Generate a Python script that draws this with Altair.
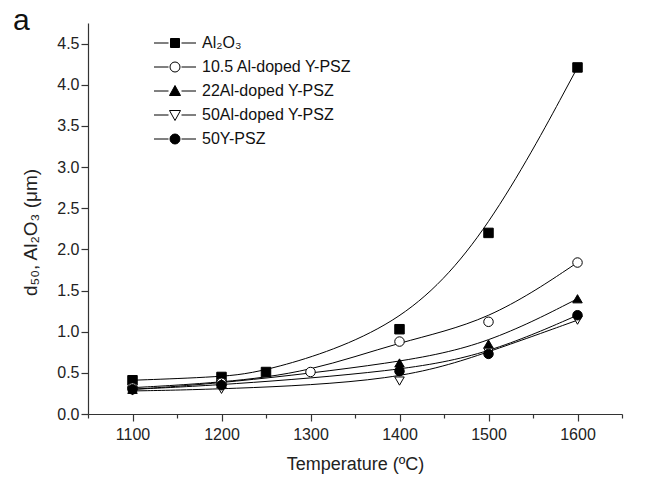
import altair as alt
import pandas as pd

series_names = ["Al₂O₃", "10.5 Al-doped Y-PSZ", "22Al-doped Y-PSZ", "50Al-doped Y-PSZ", "50Y-PSZ"]

al2o3_T = [1100, 1200, 1250, 1400, 1500, 1600]
al2o3_d = [0.41, 0.45, 0.51, 1.03, 2.20, 4.21]

al105_T = [1100, 1200, 1300, 1400, 1500, 1600]
al105_d = [0.32, 0.38, 0.51, 0.88, 1.12, 1.84]

al22_T = [1100, 1200, 1400, 1500, 1600]
al22_d = [0.30, 0.37, 0.62, 0.85, 1.40]

al50_T = [1100, 1200, 1400, 1500, 1600]
al50_d = [0.28, 0.30, 0.40, 0.75, 1.14]

y50_T = [1100, 1200, 1400, 1500, 1600]
y50_d = [0.30, 0.35, 0.52, 0.73, 1.20]

rows = []
for name, T, d in zip(series_names,
                      [al2o3_T, al105_T, al22_T, al50_T, y50_T],
                      [al2o3_d, al105_d, al22_d, al50_d, y50_d]):
    for t, v in zip(T, d):
        rows.append({"series": name, "T": t, "d": v})
df = pd.DataFrame(rows)

fills = ["black", "white", "black", "white", "black"]
strokes = ["black"] * 5
plain_shapes = ["square", "circle", "triangle-up", "triangle-down", "circle"]

L = "M-4.2,0 L-1.3,0 M1.3,0 L4.2,0 "
legend_shapes = [
    L + "M-0.9,-0.9 L0.9,-0.9 L0.9,0.9 L-0.9,0.9 Z",
    L + "M1,0 A1,1 0 1,1 -1,0 A1,1 0 1,1 1,0 Z",
    L + "M-1.1,0.9 L1.1,0.9 L0,-1.1 Z",
    L + "M-1.1,-0.9 L1.1,-0.9 L0,1.1 Z",
    L + "M1,0 A1,1 0 1,1 -1,0 A1,1 0 1,1 1,0 Z",
]

xs = alt.Scale(domain=[1050, 1650], nice=False, zero=False)
ys = alt.Scale(domain=[0, 4.75], nice=False)

x_ticks = list(range(1050, 1651, 50))
y_ticks = [i * 0.25 for i in range(0, 20)]

xaxis = alt.Axis(
    title="Temperature (ºC)", values=x_ticks, grid=False,
    labelExpr="datum.value % 100 === 0 && datum.value >= 1100 && datum.value <= 1600 ? datum.value : ''",
    tickSize={"condition": {"test": "datum.value % 100 !== 0", "value": 4}, "value": 7},
    labelFontSize=16, titleFontSize=18, labelPadding=5, titlePadding=13,
)
yaxis = alt.Axis(
    title="d₅₀, Al₂O₃ (μm)", values=y_ticks, grid=False,
    labelExpr="(round(datum.value*100) % 50 === 0) ? format(datum.value, '.1f') : ''",
    tickSize={"condition": {"test": "round(datum.value*100) % 50 !== 0", "value": 4}, "value": 7},
    labelFontSize=16, titleFontSize=19, labelPadding=2,
    titleX=-48, titleY=209,
)

base = alt.Chart(df)

lines = base.mark_line(interpolate="basis", color="black", strokeWidth=1).encode(
    x=alt.X("T:Q", scale=xs, axis=xaxis),
    y=alt.Y("d:Q", scale=ys, axis=yaxis),
    detail="series:N",
)

points = base.mark_point(filled=True, stroke="black", strokeWidth=1, size=90, opacity=1).encode(
    x=alt.X("T:Q", scale=xs),
    y=alt.Y("d:Q", scale=ys),
    shape=alt.Shape("series:N", scale=alt.Scale(domain=series_names, range=plain_shapes), legend=None),
    fill=alt.Fill("series:N", scale=alt.Scale(domain=series_names, range=fills), legend=None),
)

legend = alt.Legend(
    title=None, orient="none", legendX=79, legendY=12, padding=0,
    symbolSize=100, symbolStrokeWidth=1, symbolStrokeColor="black",
    labelFontSize=16, labelOffset=19, rowPadding=8, labelColor="#111",
    labelFont="Liberation Sans",
)

legend_layer = base.transform_filter("false").mark_point(
    filled=True, strokeWidth=1, size=100, opacity=1
).encode(
    x=alt.X("T:Q", scale=xs),
    y=alt.Y("d:Q", scale=ys),
    shape=alt.Shape("series:N", scale=alt.Scale(domain=series_names, range=legend_shapes), legend=legend),
    fill=alt.Fill("series:N", scale=alt.Scale(domain=series_names, range=fills), legend=legend),
    stroke=alt.Stroke("series:N", scale=alt.Scale(domain=series_names, range=strokes), legend=legend),
)

chart = alt.layer(lines, points, legend_layer).resolve_scale(
    shape="independent", fill="independent", stroke="independent"
).properties(
    width=534, height=391,
    autosize=alt.AutoSizeParams(type="none"),
    padding={"left": 80, "top": 15, "right": 30, "bottom": 62},
    title=alt.TitleParams("a", anchor="start", frame="group", dx=-75, offset=-37,
                          baseline="alphabetic", fontSize=30,
                          fontWeight="normal", font="Liberation Sans", color="#111"),
).configure_view(stroke=None).configure_axis(
    domainColor="#333", tickColor="#333", labelColor="#222", titleColor="#222",
    labelFont="Liberation Sans", titleFont="Liberation Sans",
    titleFontWeight="normal", domainWidth=1.2, tickWidth=1.2,
)

chart.save("out.html", embed_options={"renderer": "svg", "actions": False})
